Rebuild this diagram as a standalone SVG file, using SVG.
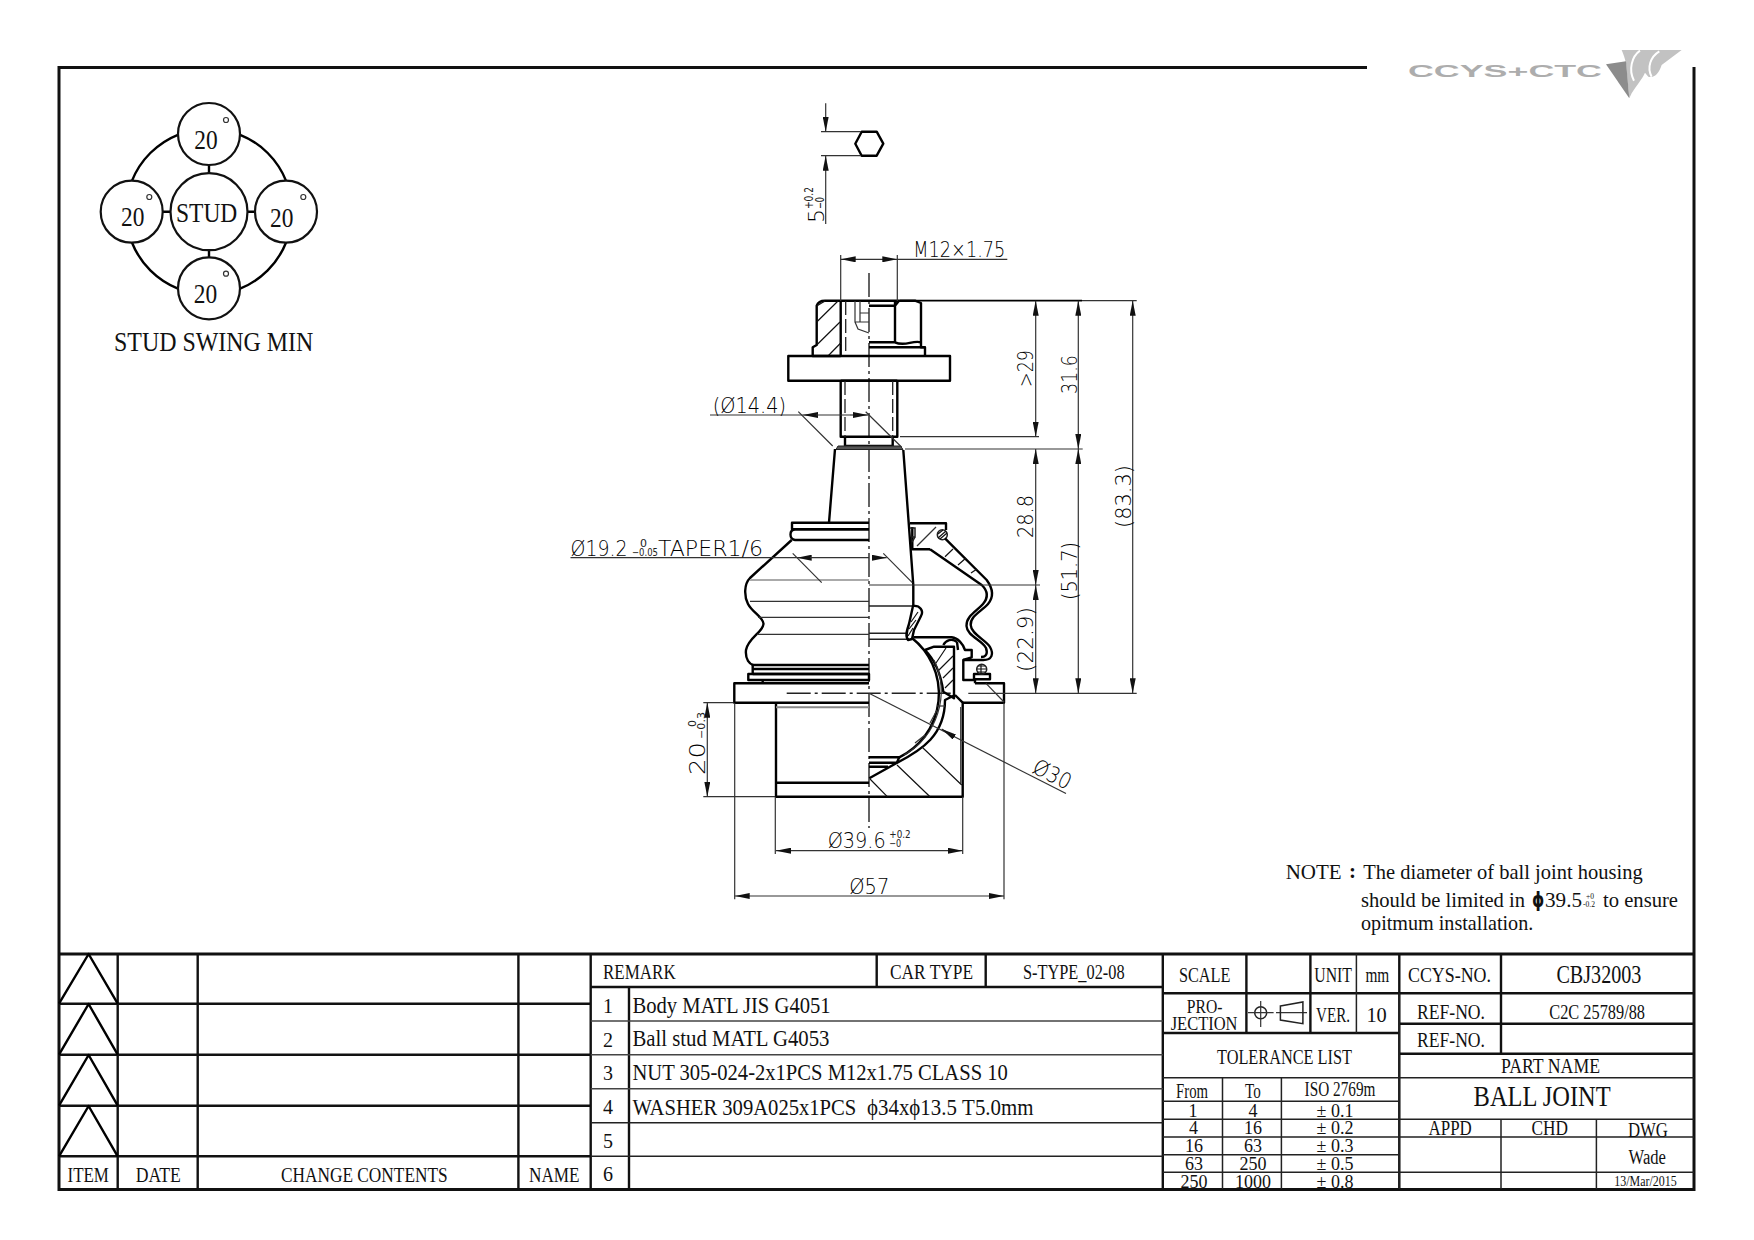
<svg xmlns="http://www.w3.org/2000/svg" width="1754" height="1240" viewBox="0 0 1754 1240">
<style>
.s{font-family:"Liberation Serif","Times New Roman",serif;fill:#111}
.c{font-family:"DejaVu Sans","Liberation Sans",sans-serif;font-weight:200;fill:#000}
.cs{font-family:"DejaVu Sans","Liberation Sans",sans-serif;font-weight:400;fill:#222}
.k{stroke:#000;stroke-width:2.4;fill:none;stroke-linejoin:round}
.m{stroke:#222;stroke-width:1.5;fill:none}
.t{stroke:#333;stroke-width:1.2;fill:none}
.g{stroke:#888;stroke-width:2;fill:none}
.h{stroke:#111;stroke-width:1.2;fill:none}
.d{stroke:#222;stroke-width:1.3;fill:none;stroke-dasharray:14 4}
.cl{stroke:#222;stroke-width:1.4;fill:none;stroke-dasharray:24 4 3 4}
.a{stroke:#333;stroke-width:1.2;fill:none;marker-end:url(#ah);marker-start:url(#ah)}
.a1{stroke:#333;stroke-width:1.2;fill:none;marker-end:url(#ah)}
.f{stroke:#111;stroke-width:3;fill:none}
.b{stroke:#111;stroke-width:2.4;fill:none}
.l{stroke:#444;stroke-width:1.6;fill:none}
.w{fill:#fff;stroke:#111;stroke-width:2.2}
</style>
<defs>
<marker id="ah" viewBox="0 0 15 6" refX="15" refY="3" markerWidth="15" markerHeight="6" markerUnits="userSpaceOnUse" orient="auto-start-reverse"><path d="M0 0L15 3L0 6Z" fill="#111"/></marker>
</defs>
<rect width="1754" height="1240" fill="#fff"/>

<g id="frame">
<path class="f" d="M1367 67.500H59V1189.500H1694V67"/>
</g>

<g id="logo">
<text x="1408" y="77" textLength="194" lengthAdjust="spacingAndGlyphs" font-size="17" style="font-family:'Liberation Sans',sans-serif;font-weight:700;fill:#adadad">CCYS+CTC</text>
<g transform="translate(1380 30) scale(.3333)">
<path d="M725 60H905L845 105C835 135 820 145 805 140L795 128C785 150 770 165 755 190L748 205L738 100C735 85 730 72 725 60Z" fill="#c2c2c2"/>
<path d="M780 62C755 80 745 120 762 152" fill="none" stroke="#fff" stroke-width="6"/>
<path d="M838 64C812 80 800 112 815 140" fill="none" stroke="#fff" stroke-width="6"/>
<path d="M678 103L738 94L748 205Z" fill="#8c8c8c"/>
</g>
</g>

<g id="swing-diagram">
<circle class="k" cx="209" cy="211.700" r="83"/>
<path class="k" d="M209 165V173M209 250V258M163 211.700H171M247 211.700H255"/>
<circle class="w" cx="209" cy="134" r="31"/>
<circle class="w" cx="131.700" cy="211.700" r="31"/>
<circle class="w" cx="286" cy="211.700" r="31"/>
<circle class="w" cx="209" cy="288.300" r="31"/>
<circle class="w" cx="209" cy="211.700" r="38.500"/>
<circle class="t" cx="226" cy="120" r="2.500"/>
<circle class="t" cx="149.300" cy="197" r="2.500"/>
<circle class="t" cx="303.300" cy="197" r="2.500"/>
<circle class="t" cx="226" cy="273.700" r="2.500"/>
<text class="s" font-size="28" x="194.300" y="149" textLength="23.400" lengthAdjust="spacingAndGlyphs">20</text>
<text class="s" font-size="28" x="121" y="225.700" textLength="23.400" lengthAdjust="spacingAndGlyphs">20</text>
<text class="s" font-size="28" x="270" y="226.700" textLength="23.400" lengthAdjust="spacingAndGlyphs">20</text>
<text class="s" font-size="28" x="193.700" y="303.300" textLength="23.400" lengthAdjust="spacingAndGlyphs">20</text>
<text class="s" font-size="27" x="176" y="221.700" textLength="61.300" lengthAdjust="spacingAndGlyphs">STUD</text>
<text class="s" font-size="28" x="114" y="351" textLength="199.300" lengthAdjust="spacingAndGlyphs">STUD SWING MIN</text>
</g>

<g id="hex-view">
<path class="k" d="M855.300 143.700L861.700 131.700H876.700L883.300 143.700L876.700 155.700H861.700Z"/>
<path class="t" d="M821 131.700H861M821 155.700H861"/>
<path class="a1" d="M825.700 103.300V131.700"/>
<path class="a1" d="M825.700 224V155.700"/>
<text class="c" font-size="22" transform="translate(823.500 223) rotate(-90)" textLength="14" lengthAdjust="spacingAndGlyphs">5</text>
<text class="cs" font-size="12" transform="translate(812.500 209) rotate(-90)" textLength="22" lengthAdjust="spacingAndGlyphs">+0.2</text>
<text class="cs" font-size="12" transform="translate(823.500 209) rotate(-90)" textLength="12" lengthAdjust="spacingAndGlyphs">−0</text>
</g>

<g id="assembly">
<path class="cl" d="M869 273V828"/>
<path class="cl" d="M786.700 693.300H953"/>
<!-- nut -->
<path class="k" d="M840.700 356H812.700V347.300L816.700 345V305.700C818 302 821 300.700 825 300.700H915L921 303V347.300H925V356"/>
<path class="k" d="M840.700 300.700V356M869 305.700H895V342.300M895 300.700V305.700L899 300.700M921 342.300C912 340 905 347 895 342.300M869 342.300H895M869 347.300H925"/>
<path class="d" d="M845.700 301V356"/>
<path class="t" d="M855 301V322H869M860 301V322M855 322L858 329L869 333M860 313H869"/>
<path class="h" d="M816.700 322L838 301M816.700 345L840 322M828 356L840.700 343M816.700 306L825 301"/>
<rect class="k" x="788.300" y="356" width="161.700" height="24.700"/>
<!-- stud -->
<path class="k" d="M840.700 380.700V436.700H897.300V380.700M840.700 380.700H897.300"/>
<path class="d" d="M845 381V437M892.700 381V437"/>
<path class="k" d="M845 437V446M892.700 437V446M845 446H892.700"/>
<path d="M836 449.500L838 446H900.500L903 449.500Z" fill="#555" stroke="#222" stroke-width="1"/>
<path class="k" d="M835 449L829 522.700M903.300 450L913.300 585V606"/>
<!-- boot left -->
<path class="k" d="M869 522.700H792V529.300H869"/>
<path class="k" d="M869 529.300H795C789 530 789 539 795 540H869"/>
<path class="k" d="M791.700 540L750 578C744 584 744 596 748 604C752 612 764 618 763.500 624C763 632 748 638 746 650C745 660 750 664 753 665"/>
<path class="k" d="M752.700 665H869M752.700 669H869M752.700 674H869M752.700 665V674"/>
<path class="k" d="M748.300 674H869V680H748.300ZM762.700 680V683.300"/>
<path d="M750 580H869" stroke="#aaa" stroke-width="2" fill="none"/>
<path class="t" d="M750 601.300H869M758 617.300H869M757 634.300H869"/>
<!-- base and body -->
<path class="k" d="M869 683.300H734.300V702.700H869"/>
<path class="k" d="M975 683.300H1004V702.700H963"/>
<path class="k" d="M776 702.700V796.700H962.700V702.700L955 695"/>
<path class="k" d="M776 782.700H869"/>
<path class="g" d="M776 707.300H869"/>
<path class="t" d="M960.700 707V783.300"/>
<path class="t" d="M986 683.300L1004 702"/>
<!-- boot right -->
<path class="k" d="M910 523.300H946V530M912.300 527V549.300H930"/>
<path class="m" d="M910 528H915V537H912M915 537L912 542"/>
<path class="t" d="M917 546L936 527"/>
<circle class="m" cx="942.300" cy="534.700" r="5"/>
<path class="h" d="M938 538L946 531M940 539L947 533M938 534L943 530"/>
<path class="k" d="M945 538.300L986.700 580C994 590 993 598 988 604C982 611 970 616 970.700 625C971 634 986 640 990 647C994 654 992 660 983.300 660H963.300V680H975V683.300"/>
<path class="k" d="M930 549.300L981.700 585C989 592 988 598 983 604C977 611 966 616 966.500 626C967 636 982 640 986 648C988 654 986 657 981 657"/>
<path class="h" d="M945 556.700L953 549M958 565L966 558M971 573L977 569"/>
<path class="m" d="M869 606H915M869 633.300H907M869 639.300H909"/>
<path class="k" d="M913 606C920 605 924 611 921 616L914 630L912 639L908 640C905 636 907 630 909 624Z"/>
<path class="h" d="M911 622L918 612M909 629L916 620M908 636L913 628"/>
<!-- housing and socket -->
<path class="k" d="M913.300 637.300H943L951.700 637.300C958 638 963 644 965 650H971.700V657.300L963.300 660"/>
<path class="k" d="M943.300 645C946 640 952 638 957 642M957 642L958 650"/>
<path class="k" d="M933.300 646.700H954V698.300L943.300 691.700C941 675 935 660 925 650L934 646.700"/>
<path class="h" d="M938 671L953 656M943 678L953 668M945 688L953 680M934 666L946 648"/>
<path class="k" d="M912 638A71 71 0 0 1 899.300 757.300"/>
<path class="k" d="M955 695L945 700C945 735 922 750 896.700 763L869.300 778.300"/>
<path class="t" d="M934 660A73 73 0 0 1 904 755M937 710L930 723M925 735L915 743"/>
<path class="k" d="M869 757.300H899.300L896.700 763M869 762.700H896M869 766.700H888"/>
<path class="t" d="M937 706L945 706"/>
<rect class="k" x="974" y="674" width="16" height="5.300"/>
<circle class="m" cx="981.700" cy="669.300" r="5"/>
<path class="h" d="M977 669H986M977 672H986M981 665V674M978 666H985"/>
<path class="h" d="M870 779L887.300 796.700M897 765L930 796.700M921.700 746.700L961.700 785"/>
</g>

<g id="dimensions">
<path class="t" d="M840.700 255V301M897.300 255V301M897.300 259.300H1007.300"/>
<path class="a" d="M840.700 259.300H897.300"/>
<text class="c" font-size="21" x="913.300" y="257" textLength="92" lengthAdjust="spacingAndGlyphs">M12×1.75</text>

<path class="k" d="M900 300.700H1082" style="stroke-width:1.800"/>
<path class="t" d="M1082 300.700H1136.700M900 436.700H1039M905 449H1082.700M869 585H1040M968.300 693.300H1136.700"/>
<path class="a" d="M1035.700 300.700V436.700"/>
<path class="a" d="M1078.300 300.700V449"/>
<path class="a" d="M1132.700 300.700V693.300"/>
<path class="a" d="M1035.700 449V585"/>
<path class="a" d="M1035.700 585V693.300"/>
<path class="a" d="M1078.300 449V693.300"/>
<text class="c" font-size="22" transform="translate(1033 387) rotate(-90)" textLength="37" lengthAdjust="spacingAndGlyphs">&gt;29</text>
<text class="c" font-size="22" transform="translate(1076.500 394) rotate(-90)" textLength="39" lengthAdjust="spacingAndGlyphs">31.6</text>
<text class="c" font-size="22" transform="translate(1130.500 528) rotate(-90)" textLength="63" lengthAdjust="spacingAndGlyphs">(83.3)</text>
<text class="c" font-size="22" transform="translate(1033 538) rotate(-90)" textLength="43" lengthAdjust="spacingAndGlyphs">28.8</text>
<text class="c" font-size="22" transform="translate(1033 672) rotate(-90)" textLength="65" lengthAdjust="spacingAndGlyphs">(22.9)</text>
<text class="c" font-size="22" transform="translate(1076.500 600) rotate(-90)" textLength="58" lengthAdjust="spacingAndGlyphs">(51.7)</text>

<path class="t" d="M798.300 411.700L832.700 446M865.700 411.700L901.700 447.300"/>
<path class="t" d="M710 415H803"/>
<path class="a1" d="M816 415H803"/>
<path class="a1" d="M850 415H868"/>
<path class="t" d="M816 415H850"/>
<text class="c" font-size="21" x="712.700" y="412.500" textLength="73.300" lengthAdjust="spacingAndGlyphs">(Ø14.4)</text>

<path class="t" d="M792.700 553.300L821.700 582.700M883.300 553.300L912.300 582.700"/>
<path class="t" d="M570.500 557.700H796.700"/>
<path class="a1" d="M810 557.700H796.700"/>
<path class="a1" d="M873 557.700H886.700"/>
<path class="t" d="M810 557.700H869"/>
<text class="c" font-size="21" x="570.500" y="555.500" textLength="57" lengthAdjust="spacingAndGlyphs">Ø19.2</text>
<text class="cs" font-size="10" x="640" y="547" textLength="7" lengthAdjust="spacingAndGlyphs">0</text>
<text class="cs" font-size="10" x="632" y="556" textLength="26" lengthAdjust="spacingAndGlyphs">−0.05</text>
<text class="c" font-size="21" x="658" y="555.500" textLength="105" lengthAdjust="spacingAndGlyphs">TAPER1/6</text>

<path class="t" d="M703.300 702.700H733M703.300 796.700H775"/>
<path class="a" d="M707.300 702.700V796.700"/>
<text class="c" font-size="22" transform="translate(705 775) rotate(-90)" textLength="33" lengthAdjust="spacingAndGlyphs">20</text>
<text class="cs" font-size="10" transform="translate(696 727) rotate(-90)" textLength="7" lengthAdjust="spacingAndGlyphs">0</text>
<text class="cs" font-size="10" transform="translate(705 739) rotate(-90)" textLength="27" lengthAdjust="spacingAndGlyphs">−0.3</text>

<path class="t" d="M775.300 796.700V854M962.700 796.700V854M734.700 703V899.300M1004 703V899.300"/>
<path class="a" d="M776 850.700H962.700"/>
<path class="a" d="M734.700 896H1004"/>
<text class="c" font-size="22" x="827.700" y="847.500" textLength="58" lengthAdjust="spacingAndGlyphs">Ø39.6</text>
<text class="cs" font-size="10" x="889.300" y="838" textLength="21.400" lengthAdjust="spacingAndGlyphs">+0.2</text>
<text class="cs" font-size="10" x="889.300" y="847.300" textLength="12" lengthAdjust="spacingAndGlyphs">−0</text>
<text class="c" font-size="22" x="849.300" y="893.500" textLength="40" lengthAdjust="spacingAndGlyphs">Ø57</text>

<path class="t" d="M869 693.300L1066 793.500"/>
<path class="a1" d="M952 735.500L941.700 729"/>
<text class="c" font-size="22" transform="translate(1031 772) rotate(27)" textLength="40" lengthAdjust="spacingAndGlyphs">Ø30</text>
</g>

<g id="note">
<text class="s" font-size="21" x="1285.700" y="879.300" textLength="56" lengthAdjust="spacingAndGlyphs">NOTE</text>
<text class="s" font-size="21" x="1349" y="878" font-weight="700">:</text>
<text class="s" font-size="21" x="1363.300" y="879" textLength="279.400" lengthAdjust="spacingAndGlyphs">The diameter of ball joint housing</text>
<text class="s" font-size="21" x="1361" y="906.700" textLength="164" lengthAdjust="spacingAndGlyphs">should be limited in</text>
<text class="s" font-size="21" x="1532" y="906.700" font-weight="700" textLength="12.300" lengthAdjust="spacingAndGlyphs" style="font-family:'DejaVu Sans',sans-serif">ϕ</text>
<text class="s" font-size="21" x="1545" y="906.700" textLength="37" lengthAdjust="spacingAndGlyphs">39.5</text>
<text class="s" font-size="8" x="1586" y="898.500" textLength="8" lengthAdjust="spacingAndGlyphs">+0</text>
<text class="s" font-size="8" x="1583" y="907" textLength="12" lengthAdjust="spacingAndGlyphs">-0.2</text>
<text class="s" font-size="21" x="1603" y="906.700" textLength="75" lengthAdjust="spacingAndGlyphs">to ensure</text>
<text class="s" font-size="21" x="1361" y="930" textLength="172.300" lengthAdjust="spacingAndGlyphs">opitmum installation.</text>
</g>

<g id="change-table" transform="translate(0 1)">
<path class="f" d="M59 953H1694"/>
<path class="b" d="M117.700 953V1188M197.700 953V1188M518.400 953V1188M59 1002.700H590M59 1053.700H590M59 1104.700H590M59 1155.300H590"/>
<path class="k" d="M59 1002.700L88.600 953L117.700 1002.700M59 1053.700L88.600 1003L117.700 1053.700M59 1104.700L88.600 1054L117.700 1104.700M59 1155.300L88.600 1105L117.700 1155.300"/>
<g font-size="20">
<text class="s" x="67.500" y="1180.700" textLength="41.400" lengthAdjust="spacingAndGlyphs">ITEM</text>
<text class="s" x="135.700" y="1180.700" textLength="45.100" lengthAdjust="spacingAndGlyphs">DATE</text>
<text class="s" x="281" y="1180.700" textLength="166.600" lengthAdjust="spacingAndGlyphs">CHANGE CONTENTS</text>
<text class="s" x="529" y="1180.700" textLength="50.600" lengthAdjust="spacingAndGlyphs">NAME</text>
</g>
</g>

<g id="remark-table" transform="translate(0 1)">
<path class="b" d="M590.700 953V1188M629 986V1188M876.700 953V986M985.700 953V986M590.700 986H1162.800M1162.800 953V1188"/>
<path class="l" d="M590.700 1020H1162.800M590.700 1053.700H1162.800M590.700 1087.700H1162.800"/>
<path class="m" d="M590.700 1121.700H1162.800M590.700 1155.300H1162.800"/>
<g font-size="20">
<text class="s" x="603" y="978.300" textLength="72.700" lengthAdjust="spacingAndGlyphs">REMARK</text>
<text class="s" x="890" y="978.300" textLength="83" lengthAdjust="spacingAndGlyphs">CAR TYPE</text>
<text class="s" x="1023" y="978.300" textLength="101.600" lengthAdjust="spacingAndGlyphs">S-TYPE_02-08</text>
<text class="s" x="603" y="1011.700">1</text>
<text class="s" x="603" y="1045.700">2</text>
<text class="s" x="603" y="1079.300">3</text>
<text class="s" x="603" y="1113.300">4</text>
<text class="s" x="603" y="1146.700">5</text>
<text class="s" x="603" y="1180">6</text>
</g>
<g font-size="23">
<text class="s" x="632.400" y="1011.700" textLength="198.300" lengthAdjust="spacingAndGlyphs">Body MATL JIS G4051</text>
<text class="s" x="632.400" y="1045" textLength="197.100" lengthAdjust="spacingAndGlyphs">Ball stud MATL G4053</text>
<text class="s" x="632.400" y="1079.300" textLength="375.500" lengthAdjust="spacingAndGlyphs">NUT 305-024-2x1PCS M12x1.75 CLASS 10</text>
<text class="s" x="632.400" y="1114.300" textLength="223.900" lengthAdjust="spacingAndGlyphs">WASHER 309A025x1PCS</text>
<text class="s" x="867" y="1114.300" textLength="166.500" lengthAdjust="spacingAndGlyphs">ϕ34xϕ13.5 T5.0mm</text>
</g>
</g>

<g id="title-block" transform="translate(0 1)">
<path class="b" d="M1399.300 953V1188M1310.400 953V1032M1246.400 953V1032M1162.800 992.300H1694M1162.800 1032H1399.300M1399.300 1022.700H1694M1399.300 1052.700H1694M1501 953V1052.700"/>
<path class="m" d="M1356.400 953V1032M1162.800 1076.700H1694M1399.300 1118.300H1694M1399.300 1136H1694M1399.300 1171.300H1694M1501 1118.300V1188M1596.400 1118.300V1188"/>
<path class="m" d="M1222.500 1076.700V1188M1281.400 1076.700V1188M1162.800 1100.300H1399.300M1162.800 1118.300H1399.300M1162.800 1136H1399.300M1162.800 1153.700H1399.300M1162.800 1171.300H1399.300"/>
<path class="m" d="M1399.300 992.300V1188"/>
<circle class="m" cx="1260.700" cy="1011.700" r="6"/>
<path class="t" d="M1248 1011.700H1273.600M1260.700 1000V1026M1276 1011.700H1307"/>
<path class="m" d="M1280.400 1005L1302.900 1001V1022.700L1280.400 1019Z"/>
<g font-size="20">
<text class="s" x="1179" y="980.700" textLength="51.400" lengthAdjust="spacingAndGlyphs">SCALE</text>
<text class="s" x="1314.300" y="980.700" textLength="37.700" lengthAdjust="spacingAndGlyphs">UNIT</text>
<text class="s" x="1365.400" y="980.700" textLength="23.900" lengthAdjust="spacingAndGlyphs">mm</text>
<text class="s" x="1408" y="980.700" textLength="83" lengthAdjust="spacingAndGlyphs">CCYS-NO.</text>
<text class="s" font-size="18" x="1186.800" y="1011.700" textLength="35.700" lengthAdjust="spacingAndGlyphs">PRO-</text>
<text class="s" font-size="18" x="1170.700" y="1029" textLength="66.800" lengthAdjust="spacingAndGlyphs">JECTION</text>
<text class="s" x="1316" y="1020.700" textLength="34" lengthAdjust="spacingAndGlyphs">VER.</text>
<text class="s" x="1366.400" y="1020.700" textLength="20.400" lengthAdjust="spacingAndGlyphs">10</text>
<text class="s" x="1417" y="1017.700" textLength="68" lengthAdjust="spacingAndGlyphs">REF-NO.</text>
<text class="s" x="1549.300" y="1017.700" textLength="95.700" lengthAdjust="spacingAndGlyphs">C2C 25789/88</text>
<text class="s" x="1417" y="1046" textLength="68" lengthAdjust="spacingAndGlyphs">REF-NO.</text>
<text class="s" x="1217" y="1063.300" textLength="135" lengthAdjust="spacingAndGlyphs">TOLERANCE LIST</text>
<text class="s" x="1501" y="1072" textLength="99" lengthAdjust="spacingAndGlyphs">PART NAME</text>
<text class="s" x="1176" y="1096.700" textLength="32" lengthAdjust="spacingAndGlyphs">From</text>
<text class="s" x="1245" y="1096.700" textLength="15.700" lengthAdjust="spacingAndGlyphs">To</text>
<text class="s" x="1304.600" y="1095" textLength="70.800" lengthAdjust="spacingAndGlyphs">ISO 2769m</text>
<text class="s" x="1428.600" y="1134" textLength="43.200" lengthAdjust="spacingAndGlyphs">APPD</text>
<text class="s" x="1531.400" y="1134" textLength="36.500" lengthAdjust="spacingAndGlyphs">CHD</text>
<text class="s" x="1627.900" y="1136" textLength="40" lengthAdjust="spacingAndGlyphs">DWG</text>
<text class="s" x="1628.600" y="1163.300" textLength="37.400" lengthAdjust="spacingAndGlyphs">Wade</text>
</g>
<text class="s" font-size="25" x="1556.400" y="981.700" textLength="85" lengthAdjust="spacingAndGlyphs">CBJ32003</text>
<text class="s" font-size="30" x="1473.600" y="1105" textLength="137.100" lengthAdjust="spacingAndGlyphs">BALL JOINT</text>
<text class="s" font-size="14" x="1614.300" y="1185" textLength="62.500" lengthAdjust="spacingAndGlyphs">13/Mar/2015</text>
<g font-size="18" text-anchor="middle">
<text class="s" x="1193" y="1115.700">1</text><text class="s" x="1253" y="1115.700">4</text><text class="s" x="1335" y="1115.700">± 0.1</text>
<text class="s" x="1193.600" y="1133.300">4</text><text class="s" x="1253" y="1133.300">16</text><text class="s" x="1335" y="1133.300">± 0.2</text>
<text class="s" x="1194" y="1151">16</text><text class="s" x="1253" y="1151">63</text><text class="s" x="1335" y="1151">± 0.3</text>
<text class="s" x="1194" y="1168.700">63</text><text class="s" x="1253" y="1168.700">250</text><text class="s" x="1335" y="1168.700">± 0.5</text>
<text class="s" x="1194" y="1186.500">250</text><text class="s" x="1253" y="1186.500">1000</text><text class="s" x="1335" y="1186.500">± 0.8</text>
</g>
</g>
</svg>
